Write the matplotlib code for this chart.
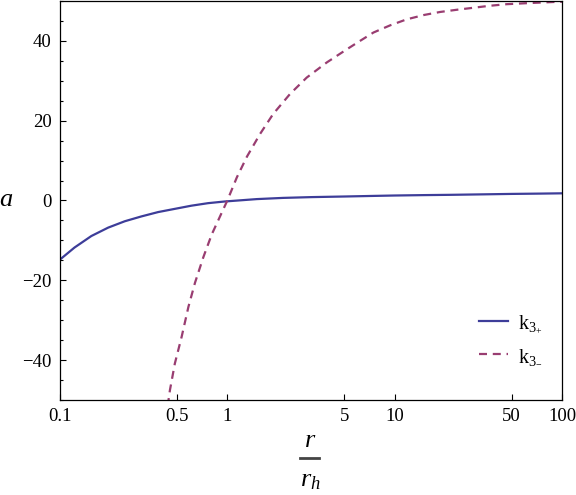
import numpy as np
import matplotlib
matplotlib.use('Agg')
import matplotlib.pyplot as plt
from matplotlib.lines import Line2D

plt.rcParams['font.family'] = ['Liberation Serif', 'DejaVu Serif']
plt.rcParams['mathtext.fontset'] = 'custom'
plt.rcParams['mathtext.rm'] = 'Liberation Serif'
plt.rcParams['mathtext.it'] = 'Liberation Serif:italic'

# values
r_plus = [0.1, 0.122, 0.154, 0.194, 0.244, 0.306, 0.386, 0.485, 0.61, 0.767,
          0.964, 1.16, 1.5, 2.15, 3.2, 5.0, 7.5, 10, 15, 21.5, 35, 50, 75, 100]
k_plus = [-14.8, -11.8, -8.9, -6.8, -5.2, -4.0, -2.9, -2.1, -1.3, -0.67,
          -0.25, 0.0, 0.35, 0.65, 0.85, 1.0, 1.15, 1.25, 1.35, 1.42, 1.55, 1.65,
          1.73, 1.8]

r_minus = [0.44, 0.454, 0.486, 0.533, 0.585, 0.641, 0.719, 0.807, 0.904, 1.0,
           1.14, 1.31, 1.57, 1.88, 2.37, 2.98, 3.93, 5.18, 6.21, 7.47, 9.4,
           11.8, 15, 18.7, 23.5, 29.5, 37, 46.7, 65, 89, 100]
k_minus = [-51.5, -47.5, -40.8, -34.2, -26.7, -20.6, -14.2, -8.5, -4.0, 0.0,
           5.8, 11.0, 16.7, 21.7, 26.7, 30.8, 34.6, 37.9, 40.0, 42.1, 43.9,
           45.4, 46.5, 47.25, 47.8, 48.3, 48.8, 49.2, 49.5, 49.75, 49.8]

xticks = [0.1, 0.5, 1, 5, 10, 50, 100]
xticklabels = ['0.1', '0.5', '1', '5', '10', '50', '100']
yticks = [-40, -20, 0, 20, 40]
yticklabels = ['\u221240', '\u221220', '0', '20', '40']

fig = plt.figure(figsize=(5.76, 4.95), dpi=100)
ax = fig.add_axes([60/576, 1 - 400/495, 502/576, 400/495 - 0.002])

ax.plot(r_plus, k_plus, color='#3D3D99', lw=1.6, label=r'$\mathrm{k}_{3_{+}}$')
ax.plot(r_minus, k_minus, color='#993D71', lw=1.6, dashes=(3.6, 2.6),
        label=r'$\mathrm{k}_{3_{-}}$')

ax.set_xscale('log')
ax.set_xlim(0.1, 100)
ax.set_ylim(-50, 50)
ax.set_xticks(xticks)
ax.set_xticklabels(xticklabels)
ax.xaxis.set_minor_locator(matplotlib.ticker.NullLocator())
ax.set_yticks(yticks)
ax.set_yticklabels(yticklabels)
ax.yaxis.set_minor_locator(matplotlib.ticker.MultipleLocator(5))
ax.tick_params(which='both', direction='in', labelsize=13.5, width=0.8,
               top=False, right=False, pad=6)
ax.tick_params(which='major', length=4.5)
ax.tick_params(which='minor', length=2.5)
for s in ax.spines.values():
    s.set_linewidth(0.9)

# y label
fig.text(6/576, 1 - 200/495, 'a', style='italic', fontsize=19,
         ha='center', va='center')

# x label as a stacked fraction
fig.text(310/576, 1 - 441/495, 'r', style='italic', fontsize=19,
         ha='center', va='center')
fig.add_artist(Line2D([300/576, 319/576], [1 - 458/495, 1 - 458/495],
                      transform=fig.transFigure, color='#444444', lw=2))
fig.text(310/576, 1 - 481/495, r'$r_h$', fontsize=19,
         ha='center', va='center')

ax.legend(loc='center left', bbox_to_anchor=(0.798, 0.152), frameon=False,
          fontsize=14.5, handlelength=1.45, labelspacing=0.65, handletextpad=0.5)

fig.savefig('out.png', dpi=100)
